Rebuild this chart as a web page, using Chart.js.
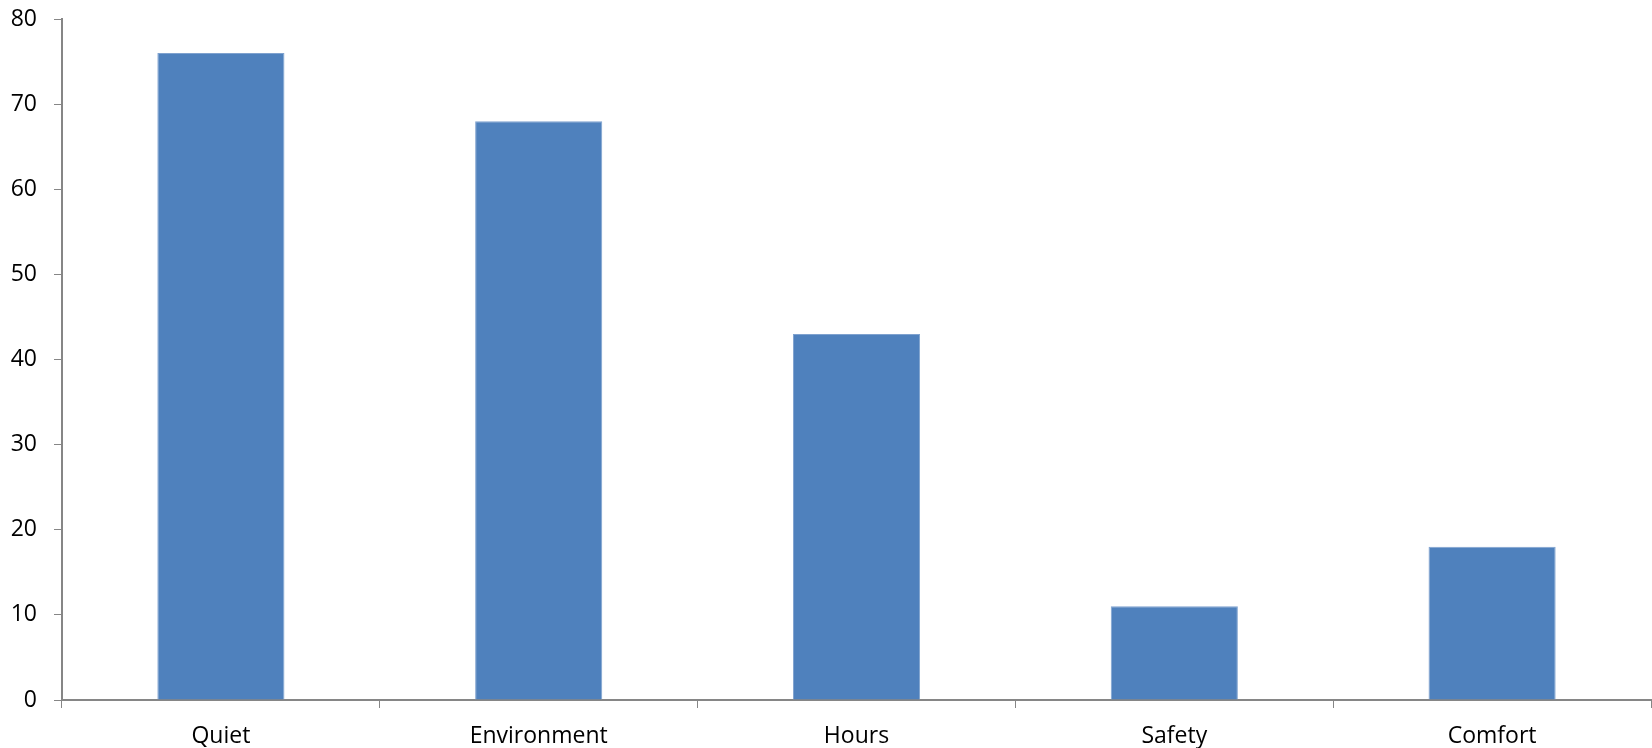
<!DOCTYPE html>
<html>
<head>
<meta charset="utf-8">
<script src="https://cdn.jsdelivr.net/npm/chart.js@4/dist/chart.umd.min.js"></script>
<style>
  html, body { margin: 0; padding: 0; background: #ffffff; }
  #wrap { width: 1652px; height: 748px; position: relative; }
</style>
</head>
<body>
<div id="wrap"><canvas id="chart"></canvas></div>
<script>
// Survey categories and their counts
const categories = ['Quiet', 'Environment', 'Hours', 'Safety', 'Comfort'];
const counts = [76, 68, 43, 11, 18];
const yTicks = [0, 10, 20, 30, 40, 50, 60, 70, 80];

const axisGray = '#868686';
const labelFont = { family: '"Open Sans", "Liberation Sans", sans-serif', size: 23 };

new Chart(document.getElementById('chart'), {
  type: 'bar',
  data: {
    labels: categories,
    datasets: [{
      data: counts,
      backgroundColor: '#4F81BD',
      borderColor: '#7FA2CF',
      borderWidth: 1,
      barPercentage: 0.4,
      categoryPercentage: 1.0
    }]
  },
  options: {
    responsive: true,
    maintainAspectRatio: false,
    animation: false,
    layout: { padding: { top: 19, right: 1, left: 0, bottom: 0 } },
    plugins: { legend: { display: false }, tooltip: { enabled: false } },
    scales: {
      x: {
        offset: true,
        grid: {
          offset: true,
          drawOnChartArea: false,
          drawTicks: true,
          tickLength: 8,
          color: axisGray
        },
        border: { display: true, color: axisGray, width: 2 },
        ticks: { color: '#000', font: labelFont, padding: 15, maxRotation: 0 },
        afterFit: (scale) => {
          scale.height = 48;
          scale.paddingLeft = 0;
          scale.paddingRight = 0;
        }
      },
      y: {
        min: 0,
        max: 80,
        afterBuildTicks: (scale) => { scale.ticks = yTicks.map(v => ({ value: v })); },
        grid: {
          drawOnChartArea: false,
          drawTicks: true,
          tickLength: 8,
          color: axisGray
        },
        border: { display: true, color: axisGray, width: 2 },
        ticks: { color: '#000', font: labelFont, padding: 17 },
        afterFit: (scale) => {
          scale.width = 62;
          scale.paddingTop = 0;
          scale.paddingBottom = 0;
        }
      }
    }
  }
});
</script>
</body>
</html>
